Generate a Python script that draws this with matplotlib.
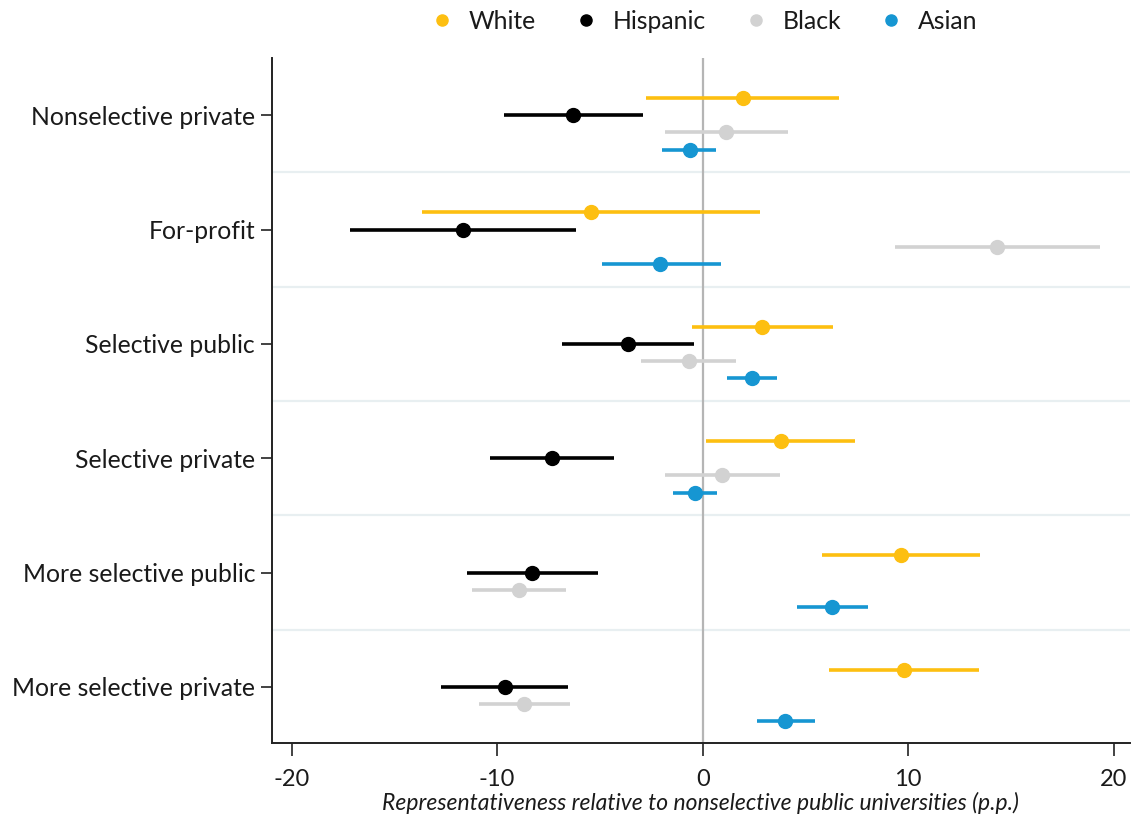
import numpy as np
import matplotlib.pyplot as plt
from matplotlib.lines import Line2D

plt.rcParams['font.family'] = ['Lato', 'DejaVu Sans']

categories = ['Nonselective private', 'For-profit', 'Selective public',
              'Selective private', 'More selective public', 'More selective private']
groups = ['White', 'Hispanic', 'Black', 'Asian']
colors = ['#fdbf11', '#000000', '#d2d2d2', '#1696d2']

# point estimates and 95% CI bounds, one list per group (order = categories)
white_est = [1.97, -5.45, 2.90, 3.79, 9.65, 9.82]
white_lo = [-2.76, -13.66, -0.53, 0.18, 5.82, 6.16]
white_hi = [6.64, 2.80, 6.33, 7.42, 13.51, 13.47]

hisp_est = [-6.30, -11.65, -3.64, -7.33, -8.30, -9.64]
hisp_lo = [-9.69, -17.18, -6.82, -10.33, -11.48, -12.73]
hisp_hi = [-2.91, -6.16, -0.44, -4.33, -5.08, -6.56]

black_est = [1.13, 14.34, -0.68, 0.92, -8.93, -8.69]
black_lo = [-1.85, 9.38, -3.00, -1.85, -11.20, -10.89]
black_hi = [4.17, 19.32, 1.63, 3.74, -6.64, -6.45]

asian_est = [-0.64, -2.06, 2.39, -0.38, 6.29, 4.03]
asian_lo = [-1.97, -4.90, 1.17, -1.46, 4.57, 2.62]
asian_hi = [0.66, 0.89, 3.62, 0.72, 8.05, 5.45]

est = [white_est, hisp_est, black_est, asian_est]
lo = [white_lo, hisp_lo, black_lo, asian_lo]
hi = [white_hi, hisp_hi, black_hi, asian_hi]
offsets = [-0.15, 0.0, 0.15, 0.30]

fig = plt.figure(figsize=(11.32, 8.19), dpi=100)
ax = fig.add_axes([0.240, 0.093, 0.758, 0.836])

ypos = np.arange(len(categories))

for y in ypos[:-1] + 0.5:
    ax.axhline(y, color='#e8eff1', lw=1.6, zorder=0)
ax.axvline(0, color='#b5b5b5', lw=1.6, zorder=1)

for g in range(len(groups)):
    yy = ypos + offsets[g]
    ax.hlines(yy, lo[g], hi[g], color=colors[g], lw=2.6, zorder=2)
    ax.plot(est[g], yy, 'o', color=colors[g], ms=10, zorder=3)

ax.set_xlim(-20.97, 20.78)
ax.set_ylim(5.49, -0.5)
ax.set_yticks(ypos)
ax.set_yticklabels(categories, fontsize=17.8, color='#1a1a1a')
ax.set_xticks([-20, -10, 0, 10, 20])
ax.set_xticklabels(['-20', '-10', '0', '10', '20'], fontsize=17, color='#1a1a1a')
ax.tick_params(axis='x', length=9, width=1.2, pad=10, color='#222222')
ax.tick_params(axis='y', length=8, width=1.2, pad=4, color='#222222')
ax.set_xlabel('Representativeness relative to nonselective public universities (p.p.)',
              fontsize=16.5, style='italic', labelpad=1, color='#1a1a1a')

for s in ['top', 'right']:
    ax.spines[s].set_visible(False)
for s in ['left', 'bottom']:
    ax.spines[s].set_linewidth(1.4)
    ax.spines[s].set_color('#222222')

handles = [Line2D([], [], ls='none', marker='o', ms=8, color=c) for c in colors]
leg = fig.legend(handles, groups, loc='center', bbox_to_anchor=(0.6215, 0.974), ncol=4,
                 frameon=False, fontsize=17.8, handletextpad=0.6, columnspacing=1.5,
                 handlelength=1.0)
for t in leg.get_texts():
    t.set_color('#1a1a1a')

fig.savefig('out.png', dpi=100)
